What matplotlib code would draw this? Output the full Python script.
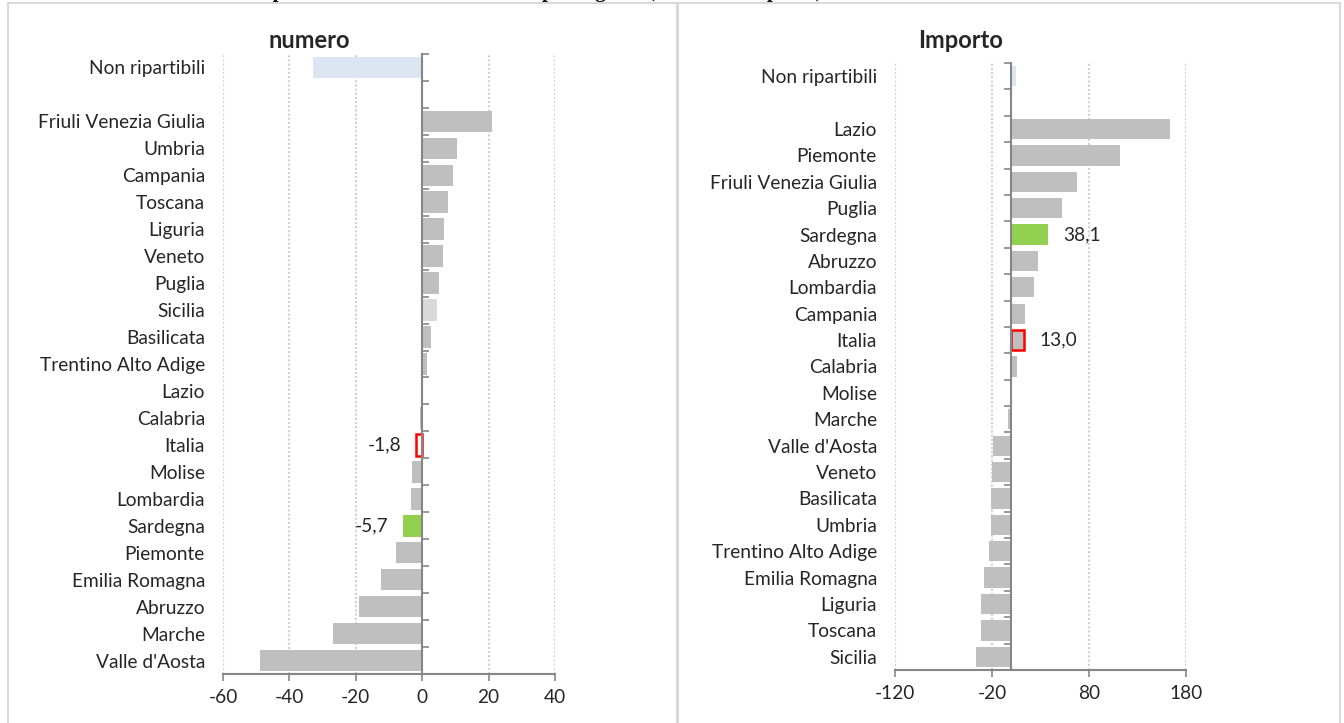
import numpy as np
import matplotlib.pyplot as plt
from matplotlib.patches import Rectangle

plt.rcParams['font.family'] = ['Lato', 'DejaVu Sans']

# data
numero_regions = ["Non ripartibili", "", "Friuli Venezia Giulia", "Umbria", "Campania",
                  "Toscana", "Liguria", "Veneto", "Puglia", "Sicilia", "Basilicata",
                  "Trentino Alto Adige", "Lazio", "Calabria", "Italia", "Molise",
                  "Lombardia", "Sardegna", "Piemonte", "Emilia Romagna", "Abruzzo",
                  "Marche", "Valle d'Aosta"]
numero_values = [-33.0, np.nan, 21.0, 10.5, 9.4, 7.8, 6.6, 6.2, 5.0, 4.4, 2.7,
                 1.3, 0.1, -0.8, -1.8, -3.0, -3.4, -5.7, -7.9, -12.3, -19.1,
                 -27.0, -49.0]

importo_regions = ["Non ripartibili", "", "Lazio", "Piemonte", "Friuli Venezia Giulia",
                   "Puglia", "Sardegna", "Abruzzo", "Lombardia", "Campania", "Italia",
                   "Calabria", "Molise", "Marche", "Valle d'Aosta", "Veneto",
                   "Basilicata", "Umbria", "Trentino Alto Adige", "Emilia Romagna",
                   "Liguria", "Toscana", "Sicilia"]
importo_values = [5.0, np.nan, 163.0, 112.0, 68.0, 52.0, 38.1, 27.0, 23.0, 14.0,
                  13.0, 6.0, 0.3, -3.0, -19.3, -19.5, -20.6, -20.6, -22.7, -28.2,
                  -30.9, -30.9, -36.0]

numero_ticks = [-60, -40, -20, 0, 20, 40]
importo_ticks = [-120, -20, 80, 180]

GRAY = "#BFBFBF"
TEXT = "#262626"
AXIS = "#868686"
FS = 13.8


def bar_colors(regions, light=(), italia_face=GRAY):
    faces, edges, widths = [], [], []
    for r in regions:
        if r == "Non ripartibili":
            faces.append("#DCE6F2"); edges.append("none"); widths.append(0)
        elif r == "Sardegna":
            faces.append("#92D050"); edges.append("none"); widths.append(0)
        elif r == "Italia":
            faces.append(italia_face); edges.append("#FF0000"); widths.append(1.8)
        elif r in light:
            faces.append("#D9D9D9"); edges.append("none"); widths.append(0)
        else:
            faces.append(GRAY); edges.append("none"); widths.append(0)
    return faces, edges, widths


def draw_panel(ax, regions, values, ticks, title, title_x, title_pad, height,
               labelled, light=(), italia_face=GRAY):
    y = np.arange(len(regions))
    faces, edges, widths = bar_colors(regions, light, italia_face)
    ax.barh(y, values, height=height, color=faces, edgecolor=edges,
            linewidth=widths, zorder=3)
    ax.set_xlim(ticks[0], ticks[-1])
    ax.set_ylim(len(regions) - 0.5, -0.5)
    ax.set_xticks(ticks)
    ax.set_xticklabels([str(t) for t in ticks])
    ax.set_yticks(y)
    ax.set_yticklabels(regions)
    ax.tick_params(axis='y', length=0, pad=13, labelsize=FS, labelcolor=TEXT)
    ax.tick_params(axis='x', length=5, width=1.2, color=AXIS, pad=6,
                   labelsize=FS, labelcolor=TEXT)
    for s in ("top", "right", "left"):
        ax.spines[s].set_visible(False)
    ax.spines["bottom"].set_color(AXIS)
    ax.spines["bottom"].set_linewidth(1.5)
    for t in ticks:
        if t != 0:
            ax.axvline(t, color="#D0D0D0", linewidth=1.5, linestyle=(0, (1, 1)), zorder=0)

    # category axis crossing at zero, with ticks between categories
    frac = (0 - ticks[0]) / (ticks[-1] - ticks[0])
    sec = ax.secondary_yaxis(frac)
    sec.set_yticks(np.arange(len(regions)) - 0.5)
    sec.set_yticklabels([])
    sec.tick_params(length=5, width=1.2, color=AXIS)
    for s in ("left", "right"):
        sec.spines[s].set_color(AXIS)
        sec.spines[s].set_linewidth(1.5)
    sec.set_zorder(5)

    ax.set_title(title, fontsize=17, fontweight="bold", color=TEXT,
                 x=title_x, pad=title_pad)

    for r in labelled:
        i = regions.index(r)
        v = values[i]
        txt = f"{v:.1f}".replace(".", ",")
        off = 11 if v >= 0 else -11
        ax.annotate(txt, (v, i), xytext=(off, 0), textcoords="offset points",
                    ha="left" if v >= 0 else "right", va="center",
                    fontsize=FS, color=TEXT)


fig = plt.figure(figsize=(13.44, 7.23), dpi=100)

# panel frames
fig.patches.append(Rectangle((8 / 1344, -0.05), 669 / 1344, 1.05 - 3 / 723,
                             transform=fig.transFigure, fill=False,
                             edgecolor="#D9D9D9", linewidth=1.5))
fig.patches.append(Rectangle((678 / 1344, -0.05), 662 / 1344, 1.05 - 3 / 723,
                             transform=fig.transFigure, fill=False,
                             edgecolor="#D9D9D9", linewidth=1.5))

ax1 = fig.add_axes([223 / 1344, 1 - 674 / 723, 332 / 1344, 620 / 723])
draw_panel(ax1, numero_regions, numero_values, numero_ticks, "numero", 0.26, 4,
           0.8, ["Italia", "Sardegna"], light=("Sicilia",), italia_face="white")

ax2 = fig.add_axes([895 / 1344, 1 - 670 / 723, 291 / 1344, 607 / 723])
draw_panel(ax2, importo_regions, importo_values, importo_ticks, "Importo", 0.225, 10.5,
           0.77, ["Sardegna", "Italia"])

# page heading, cut off at the top edge of the picture (only descenders show)
fig.text(0.37, 1 + 3 / 723, "Variazione percentuale dei finanziamenti per regione (numero e importo)",
         ha="center", va="baseline", fontsize=15, fontweight="bold",
         family="Liberation Serif", color="#111111")

fig.savefig("out.png", dpi=100)
